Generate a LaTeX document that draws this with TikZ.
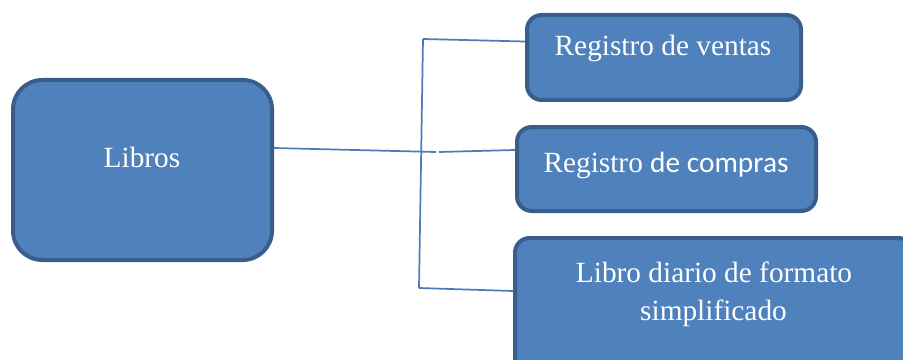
\documentclass[tikz,border=0pt]{standalone}
\usepackage{fontspec}
\setmainfont{Liberation Serif}
\newfontfamily\calibri{Carlito}
\usetikzlibrary{calc}
\definecolor{boxfill}{HTML}{4F81BD}
\definecolor{boxedge}{HTML}{3A5E8C}
\definecolor{conn}{HTML}{4A7EBB}
\begin{document}
\begin{tikzpicture}[x=0.75pt,y=-0.75pt,
  box/.style={draw=boxedge,fill=boxfill,line width=3pt,rounded corners=11pt,inner sep=0pt},
  bigbox/.style={box,rounded corners=22pt},
  txt/.style={text=white,font=\fontsize{22}{28.5}\selectfont,inner sep=0pt,anchor=base},
  link/.style={draw=conn,line width=1.3pt}]
\clip (0,0) rectangle (903,360);
\fill[white] (0,0) rectangle (903,360);
% boxes
\node[bigbox,minimum width=259*0.75pt,minimum height=180*0.75pt] (libros) at (142.5,170) {};
\node[box,minimum width=274*0.75pt,minimum height=85*0.75pt] (ventas) at (664,57.5) {};
\node[box,minimum width=299*0.75pt,minimum height=84*0.75pt] (compras) at (666.5,169) {};
\node[box,minimum width=398*0.75pt,minimum height=162*0.75pt] (diario) at (714,319) {};
% texts
\node[txt] (tlibros) at (142,167) {Libros};
\node[txt] (tventas) at (663,56) {Registro de ventas};
\node[txt] (tcompras) at (666,172) {Registro {\calibri de compras}};
\node[txt] (tdiario1) at (714,282) {Libro diario de formato};
\node[txt] (tdiario2) at (713.5,320) {simplificado};
% connectors
\coordinate (vtop) at (423,39);
\coordinate (vbot) at (419,288);
\coordinate (mA) at (436,152);
\coordinate (mB) at (439,152);
\draw[link] (vtop) -- (vbot);
\draw[link] (vtop) -- ($(ventas.west)+(0,-16)$);
\draw[link] ($(libros.east)+(0,-22)$) -- (mA);
\draw[link] (mB) -- ($(compras.west)+(0,-19)$);
\draw[link] (vbot) -- ($(diario.west)+(0,-28)$);
\end{tikzpicture}
\end{document}
